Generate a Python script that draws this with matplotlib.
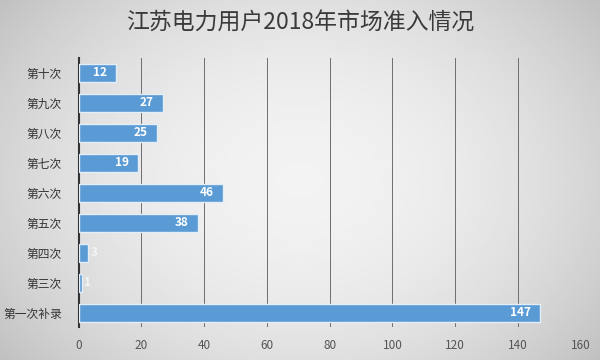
import numpy as np
import matplotlib
matplotlib.use("Agg")
import matplotlib.pyplot as plt

plt.rcParams['font.family'] = ['Noto Sans CJK SC', 'DejaVu Sans']

# 数据（自下而上）
categories = ['第一次补录', '第三次', '第四次', '第五次', '第六次', '第七次', '第八次', '第九次', '第十次']
values = [147, 1, 3, 38, 46, 19, 25, 27, 12]
xticks = [0, 20, 40, 60, 80, 100, 120, 140, 160]

fig = plt.figure(figsize=(6, 3.6), dpi=100)

# 背景渐变
bg = fig.add_axes([0, 0, 1, 1], zorder=0)
yy, xx = np.mgrid[-1:1:200j, -1:1:300j]
r = np.sqrt(xx ** 2 * 0.8 + yy ** 2 * 0.5)
grad = 0.95 - 0.15 * np.clip(r, 0, 1.2) ** 2
bg.imshow(grad, cmap='gray', vmin=0, vmax=1, aspect='auto', extent=[0, 1, 0, 1])
bg.axis('off')

ax = fig.add_axes([0.131, 0.092, 0.837, 0.747], zorder=1)
ax.set_facecolor('none')

y = np.arange(len(categories))
bars = ax.barh(y, values, height=0.6, color='#5b9bd5', edgecolor='#e3eef8', linewidth=1.0, zorder=3)

for yi, v in zip(y, values):
    if v >= 10:
        ax.text(v - 3, yi, str(v), ha='right', va='center', color='white', fontsize=8.5,
                weight='bold', zorder=4)
    else:
        ax.text(v + 0.8, yi, str(v), ha='left', va='center', color='#f4f4f4', fontsize=8.5,
                weight='bold', zorder=4)

ax.set_xlim(0, 160)
ax.set_ylim(-0.47, 8.5)
ax.set_xticks(xticks)
ax.set_yticks(y)
ax.set_yticklabels(categories)
ax.xaxis.grid(True, color='#6e6e6e', linewidth=0.7, zorder=1)
ax.set_axisbelow(True)
ax.tick_params(axis='both', length=0)
ax.tick_params(axis='x', labelsize=8.5, colors='#555555', pad=9)
ax.tick_params(axis='y', labelsize=8.5, colors='#333333', pad=12)
for s in ['top', 'right', 'bottom']:
    ax.spines[s].set_visible(False)
ax.spines['left'].set_color('#333333')
ax.spines['left'].set_linewidth(1.5)

fig.text(0.5, 0.937, '江苏电力用户2018年市场准入情况', ha='center', va='center',
         fontsize=16.5, color='#3a3a3a', weight='medium')

fig.savefig('out.png', dpi=100)
